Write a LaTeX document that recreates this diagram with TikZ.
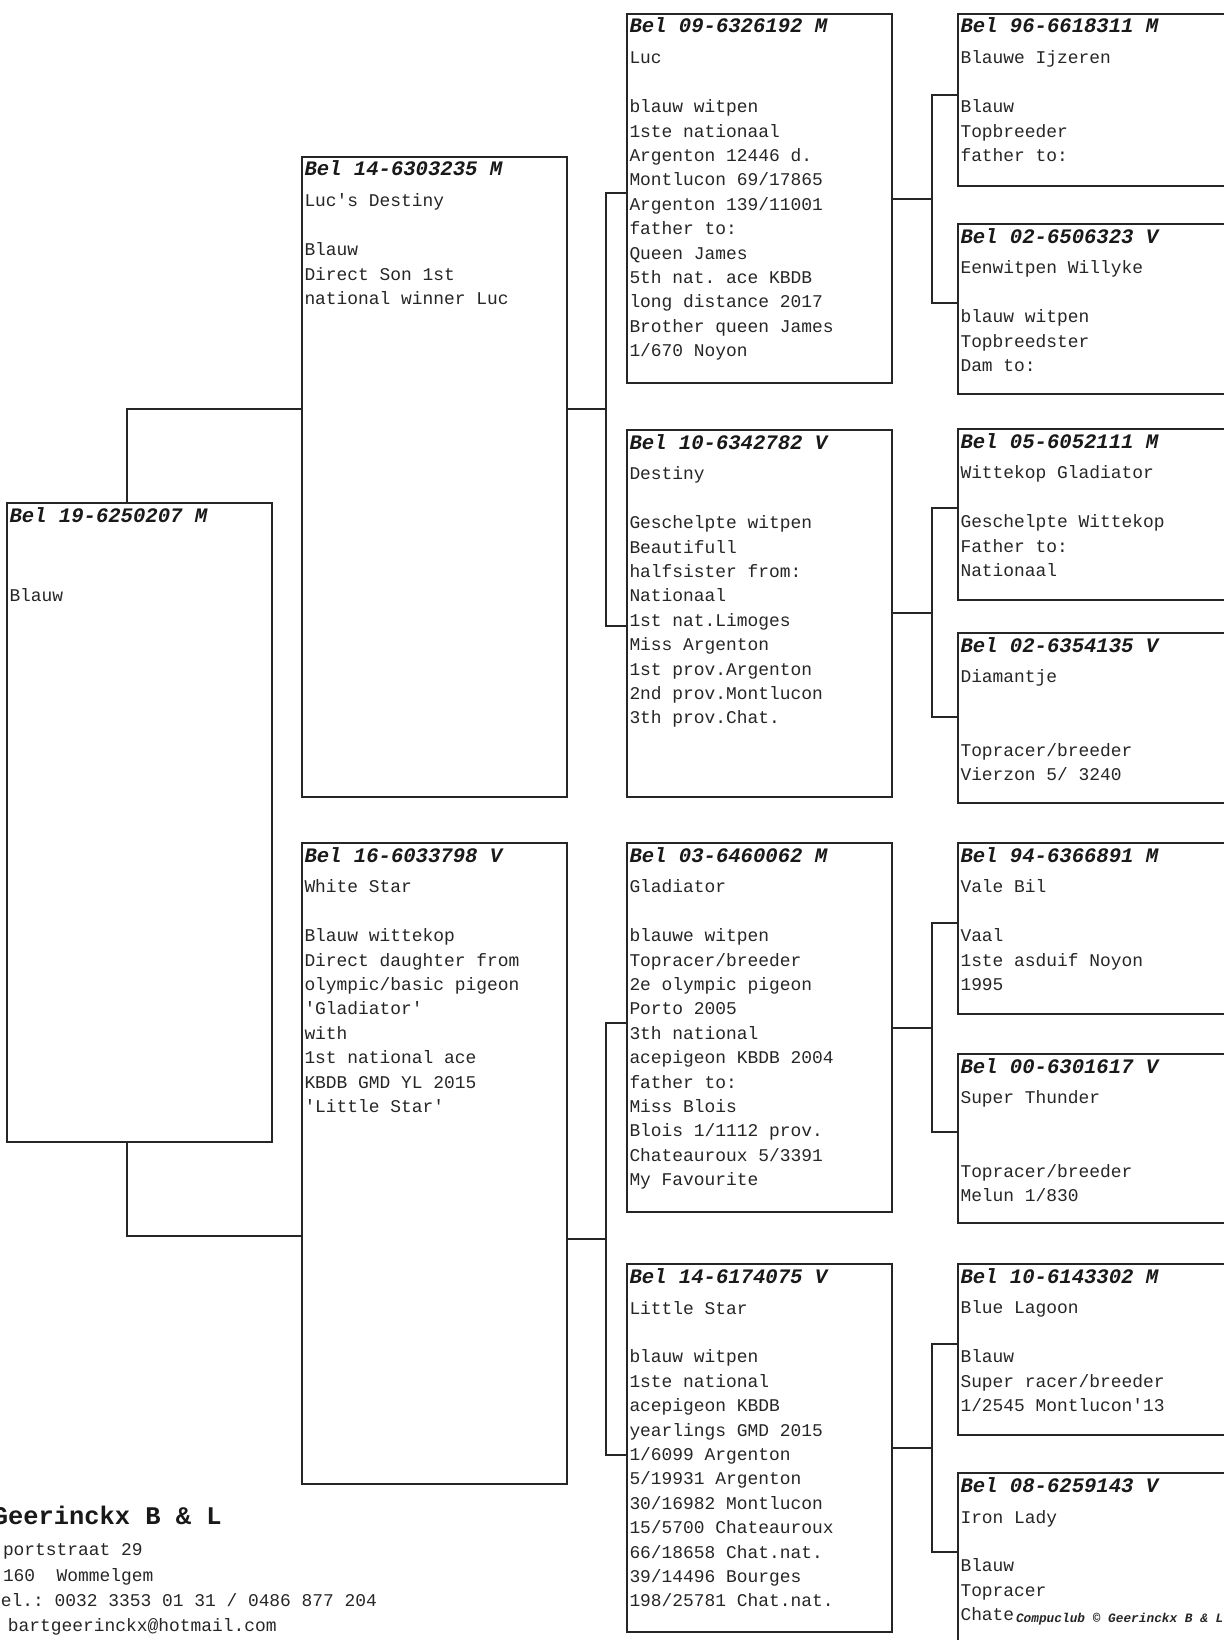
\documentclass[tikz,border=0pt]{standalone}
\usepackage{fontspec}
\setmonofont{Liberation Mono}
\usetikzlibrary{calc}
\newcommand\pedhead{\ttfamily\bfseries\itshape\fontsize{20.6}{24}\selectfont}
\newcommand\pedbody{\ttfamily\fontsize{17.9}{24.4}\selectfont}
\newcommand\pedfoot{\ttfamily\bfseries\fontsize{25.4}{28}\selectfont}
\newcommand\pedcopy{\ttfamily\bfseries\itshape\fontsize{12.8}{14}\selectfont}
\begin{document}
\begin{tikzpicture}[x=1pt,y=-1pt,
  pbox/.style={draw=black!85, line width=1.7pt, anchor=north west, minimum width=265pt, inner sep=0pt, outer sep=0pt},
  pboxr/.style={pbox, minimum width=285pt},
  hdr/.style={anchor=base west, inner sep=0pt, outer sep=0pt, font=\pedhead, text=black!90},
  bdy/.style={anchor=north west, inner sep=0pt, outer sep=0pt, align=left, font=\pedbody, text=black!85},
  conn/.style={draw=black!85, line width=1.6pt},
  foot/.style={anchor=base west, inner sep=0pt, outer sep=0pt, font=\pedbody, text=black!85},
  footb/.style={anchor=base west, inner sep=0pt, outer sep=0pt, font=\pedfoot, text=black!90},
  copyr/.style={anchor=base west, inner sep=0pt, outer sep=0pt, font=\pedcopy, text=black!85}]
\useasboundingbox (0,0) rectangle (1223,1640);
\fill[white] (0,0) rectangle (1223,1640);

% ---------- boxes ----------
\node[pbox, minimum height=639] (A) at (7,503) {};
\node[pbox, minimum height=640] (B) at (302,157) {};
\node[pbox, minimum height=641] (C) at (302,843) {};
\node[pbox, minimum height=369] (D) at (627,14) {};
\node[pbox, minimum height=367] (E) at (627,430) {};
\node[pbox, minimum height=369] (F) at (627,843) {};
\node[pbox, minimum height=368] (G) at (627,1264) {};
\node[pboxr, minimum height=172] (H1) at (958,14) {};
\node[pboxr, minimum height=170] (H2) at (958,224) {};
\node[pboxr, minimum height=171] (H3) at (958,429) {};
\node[pboxr, minimum height=170] (H4) at (958,633) {};
\node[pboxr, minimum height=171] (H5) at (958,843) {};
\node[pboxr, minimum height=169] (H6) at (958,1054) {};
\node[pboxr, minimum height=171] (H7) at (958,1264) {};
\node[pboxr, minimum height=200] (H8) at (958,1473) {};

% ---------- texts ----------
\node[hdr] (Ah) at ($(A.north west)+(2.5,19)$) {Bel 19-6250207 M};
\node[bdy] (Ab) at ($(A.north west)+(2.5,32.9)$) {\strut\\\\Blauw};

\node[hdr] (Bh) at ($(B.north west)+(2.5,19)$) {Bel 14-6303235 M};
\node[bdy] (Bb) at ($(B.north west)+(2.5,32.9)$) {\strut Luc's Destiny\\\\Blauw\\Direct Son 1st\\national winner Luc};

\node[hdr] (Ch) at ($(C.north west)+(2.5,19)$) {Bel 16-6033798 V};
\node[bdy] (Cb) at ($(C.north west)+(2.5,32.9)$) {\strut White Star\\\\Blauw wittekop\\Direct daughter from\\olympic/basic pigeon\\'Gladiator'\\with\\1st national ace\\KBDB GMD YL 2015\\'Little Star'};

\node[hdr] (Dh) at ($(D.north west)+(2.5,19)$) {Bel 09-6326192 M};
\node[bdy] (Db) at ($(D.north west)+(2.5,32.9)$) {\strut Luc\\\\blauw witpen\\1ste nationaal\\Argenton 12446 d.\\Montlucon 69/17865\\Argenton 139/11001\\father to:\\Queen James\\5th nat. ace KBDB\\long distance 2017\\Brother queen James\\1/670 Noyon};

\node[hdr] (Eh) at ($(E.north west)+(2.5,19)$) {Bel 10-6342782 V};
\node[bdy] (Eb) at ($(E.north west)+(2.5,32.9)$) {\strut Destiny\\\\Geschelpte witpen\\Beautifull\\halfsister from:\\Nationaal\\1st nat.Limoges\\Miss Argenton\\1st prov.Argenton\\2nd prov.Montlucon\\3th prov.Chat.};

\node[hdr] (Fh) at ($(F.north west)+(2.5,19)$) {Bel 03-6460062 M};
\node[bdy] (Fb) at ($(F.north west)+(2.5,32.9)$) {\strut Gladiator\\\\blauwe witpen\\Topracer/breeder\\2e olympic pigeon\\Porto 2005\\3th national\\acepigeon KBDB 2004\\father to:\\Miss Blois\\Blois 1/1112 prov.\\Chateauroux 5/3391\\My Favourite};

\node[hdr] (Gh) at ($(G.north west)+(2.5,19)$) {Bel 14-6174075 V};
\node[bdy] (Gb) at ($(G.north west)+(2.5,32.9)$) {\strut Little Star\\\\blauw witpen\\1ste national\\acepigeon KBDB\\yearlings GMD 2015\\1/6099 Argenton\\5/19931 Argenton\\30/16982 Montlucon\\15/5700 Chateauroux\\66/18658 Chat.nat.\\39/14496 Bourges\\198/25781 Chat.nat.};

\node[hdr] (H1h) at ($(H1.north west)+(2.5,19)$) {Bel 96-6618311 M};
\node[bdy] (H1b) at ($(H1.north west)+(2.5,32.9)$) {\strut Blauwe Ijzeren\\\\Blauw\\Topbreeder\\father to:};

\node[hdr] (H2h) at ($(H2.north west)+(2.5,19)$) {Bel 02-6506323 V};
\node[bdy] (H2b) at ($(H2.north west)+(2.5,32.9)$) {\strut Eenwitpen Willyke\\\\blauw witpen\\Topbreedster\\Dam to:};

\node[hdr] (H3h) at ($(H3.north west)+(2.5,19)$) {Bel 05-6052111 M};
\node[bdy] (H3b) at ($(H3.north west)+(2.5,32.9)$) {\strut Wittekop Gladiator\\\\Geschelpte Wittekop\\Father to:\\Nationaal};

\node[hdr] (H4h) at ($(H4.north west)+(2.5,19)$) {Bel 02-6354135 V};
\node[bdy] (H4b) at ($(H4.north west)+(2.5,32.9)$) {\strut Diamantje\\\\\\Topracer/breeder\\Vierzon 5/ 3240};

\node[hdr] (H5h) at ($(H5.north west)+(2.5,19)$) {Bel 94-6366891 M};
\node[bdy] (H5b) at ($(H5.north west)+(2.5,32.9)$) {\strut Vale Bil\\\\Vaal\\1ste asduif Noyon\\1995};

\node[hdr] (H6h) at ($(H6.north west)+(2.5,19)$) {Bel 00-6301617 V};
\node[bdy] (H6b) at ($(H6.north west)+(2.5,32.9)$) {\strut Super Thunder\\\\\\Topracer/breeder\\Melun 1/830};

\node[hdr] (H7h) at ($(H7.north west)+(2.5,19)$) {Bel 10-6143302 M};
\node[bdy] (H7b) at ($(H7.north west)+(2.5,32.9)$) {\strut Blue Lagoon\\\\Blauw\\Super racer/breeder\\1/2545 Montlucon'13};

\node[hdr] (H8h) at ($(H8.north west)+(2.5,19)$) {Bel 08-6259143 V};
\node[bdy] (H8b) at ($(H8.north west)+(2.5,32.9)$) {\strut Iron Lady\\\\Blauw\\Topracer\\Chate};
\node[copyr] (cp) at (1016,1622) {Compuclub © Geerinckx B \& L};

% ---------- connectors ----------
\draw[conn] ($(A.north west)+(120,0)$) |- ($(B.north west)+(0,252)$);
\draw[conn] ($(A.south west)+(120,0)$) |- ($(C.north west)+(0,393)$);

\draw[conn] ($(B.north east)+(0,252)$) -- ++(39,0);
\draw[conn] ($(D.north west)+(0,179)$) -| ($(B.north east)+(39,252)$) |- ($(E.north west)+(0,196)$);
\draw[conn] ($(C.north east)+(0,396)$) -- ++(39,0);
\draw[conn] ($(F.north west)+(0,180)$) -| ($(C.north east)+(39,396)$) |- ($(G.north west)+(0,191)$);

\draw[conn] ($(D.north east)+(0,185)$) -- ++(40,0);
\draw[conn] ($(H1.north west)+(0,81)$) -| ($(D.north east)+(40,185)$) |- ($(H2.north west)+(0,79)$);
\draw[conn] ($(E.north east)+(0,183)$) -- ++(40,0);
\draw[conn] ($(H3.north west)+(0,79)$) -| ($(E.north east)+(40,183)$) |- ($(H4.north west)+(0,84)$);
\draw[conn] ($(F.north east)+(0,185)$) -- ++(40,0);
\draw[conn] ($(H5.north west)+(0,80)$) -| ($(F.north east)+(40,185)$) |- ($(H6.north west)+(0,78)$);
\draw[conn] ($(G.north east)+(0,184)$) -- ++(40,0);
\draw[conn] ($(H7.north west)+(0,80)$) -| ($(G.north east)+(40,184)$) |- ($(H8.north west)+(0,79)$);

% ---------- footer ----------
\node[footb] (f1) at (-7,1524) {Geerinckx B \& L};
\node[foot] (f2) at (3,1555) {portstraat 29};
\node[foot] (f3) at (3,1581) {160~~Wommelgem};
\node[foot] (f4) at (1,1606) {el.: 0032 3353 01 31 / 0486 877 204};
\node[foot] (f5) at (8,1631) {bartgeerinckx@hotmail.com};
\end{tikzpicture}
\end{document}
